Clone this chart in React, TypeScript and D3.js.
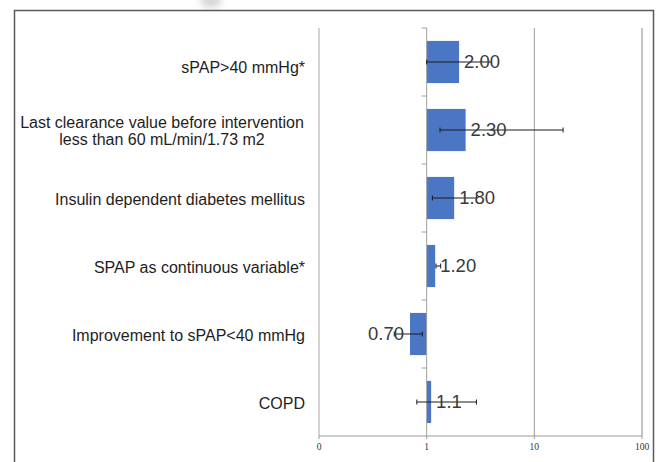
import * as d3 from 'd3';

// categories top to bottom, odds ratios with 95% CI
const categories = [
  'sPAP>40 mmHg*',
  'Last clearance value before intervention\nless than 60 mL/min/1.73 m2',
  'Insulin dependent diabetes mellitus',
  'SPAP as continuous variable*',
  'Improvement to sPAP<40 mmHg',
  'COPD',
];
const values = [2.0, 2.3, 1.8, 1.2, 0.7, 1.1];
const valueLabels = ['2.00', '2.30', '1.80', '1.20', '0.70', '1.1'];
const lower = [1.0, 1.33, 1.13, 1.22, 0.5, 0.81];
const upper = [4.0, 18.5, 2.9, 1.35, 0.91, 2.9];
const tickValues = [0.1, 1, 10, 100];
const tickLabels = ['0', '1', '10', '100'];

const W = 660;
const H = 462;

export default function App() {
  const x = d3.scaleLog().domain([0.1, 100]).range([319, 642]);
  const y = d3.scaleBand<string>()
    .domain(categories)
    .range([28, 436])
    .paddingInner(0.38)
    .paddingOuter(0.19);
  const step = y.step();
  const top = 28;
  const bottom = 436;
  const x1 = x(1);

  return (
    <svg width={W} height={H} style={{ position: 'absolute', left: 0, top: 0, background: '#fff' }}>
      <defs>
        <filter id="blur" x="-50%" y="-50%" width="200%" height="200%">
          <feGaussianBlur stdDeviation="3" />
        </filter>
      </defs>
      <rect x={0} y={0} width={W} height={H} fill="#fff" />
      {/* faint smudge at the top edge */}
      <ellipse cx={211} cy={1} rx={11} ry={7} fill="#d8d8d8" filter="url(#blur)" />

      {/* outer frame */}
      <path d={`M14.5,${H} V10.5 H653.5 V${H}`} fill="none" stroke="#5a5a5a" strokeWidth={1.5} />

      {/* gridlines */}
      <line x1={x(0.1)} x2={x(0.1)} y1={top} y2={bottom} stroke="#a6a6a6" strokeWidth={1} />
      <line x1={x(10)} x2={x(10)} y1={top} y2={bottom} stroke="#9a9a9a" strokeWidth={1} />
      <line x1={x(100)} x2={x(100)} y1={top} y2={bottom} stroke="#c4c4c4" strokeWidth={2} />

      {/* x axis */}
      <line x1={x(0.1)} x2={x(100)} y1={bottom} y2={bottom} stroke="#9a9a9a" />
      {tickValues.map((t, i) => (
        <g key={t}>
          <line x1={x(t)} x2={x(t)} y1={bottom} y2={bottom + 3} stroke="#9a9a9a" />
          <text x={x(t)} y={bottom + 14} textAnchor="middle" fontFamily="'Liberation Serif', serif" fontSize={9.5} fill="#333">
            {tickLabels[i]}
          </text>
        </g>
      ))}

      {/* bars */}
      {categories.map((c, i) => (
        <rect
          key={c}
          x={Math.min(x1, x(values[i]))}
          y={y(c)}
          width={Math.abs(x(values[i]) - x1)}
          height={y.bandwidth()}
          fill="#4a76c4"
        />
      ))}

      {/* category axis at 1 */}
      <line x1={x1} x2={x1} y1={top} y2={bottom} stroke="#a0a0a0" />
      {d3.range(categories.length).map((i) => (
        <line key={i} x1={x1 - 5} x2={x1} y1={top + i * step} y2={top + i * step} stroke="#a0a0a0" />
      ))}

      {/* error bars */}
      {categories.map((c, i) => {
        const cy = (y(c) as number) + y.bandwidth() / 2;
        return (
          <g key={c} stroke="#1a1a1a" strokeWidth={1}>
            <line x1={x(lower[i])} x2={x(upper[i])} y1={cy} y2={cy} />
            <line x1={x(lower[i])} x2={x(lower[i])} y1={cy - 2.5} y2={cy + 2.5} />
            <line x1={x(upper[i])} x2={x(upper[i])} y1={cy - 2.5} y2={cy + 2.5} />
          </g>
        );
      })}

      {/* value labels */}
      {categories.map((c, i) => {
        const cy = (y(c) as number) + y.bandwidth() / 2;
        const right = values[i] >= 1;
        return (
          <text
            key={c}
            x={right ? x(values[i]) + 5 : x(values[i]) - 6}
            y={cy}
            dy="0.35em"
            textAnchor={right ? 'start' : 'end'}
            fontFamily="'Liberation Sans', Arial, sans-serif"
            fontSize={18.5}
            fill="#3a3a3a"
          >
            {valueLabels[i]}
          </text>
        );
      })}

      {/* category labels */}
      {categories.map((c, i) => {
        const lines = c.split('\n');
        const cy = (y(c) as number) + y.bandwidth() / 2 + (i === 0 ? 5 : 1);
        const lh = 17;
        return (
          <text
            key={c}
            fontFamily="'Liberation Sans', Arial, sans-serif"
            fontSize={16}
            fill="#1e1e1e"
          >
            {lines.map((l, j) => (
              <tspan
                key={j}
                x={lines.length > 1 ? 162 : 305}
                textAnchor={lines.length > 1 ? 'middle' : 'end'}
                y={cy + (j - (lines.length - 1) / 2) * lh}
                dy="0.35em"
              >
                {l}
              </tspan>
            ))}
          </text>
        );
      })}
    </svg>
  );
}
